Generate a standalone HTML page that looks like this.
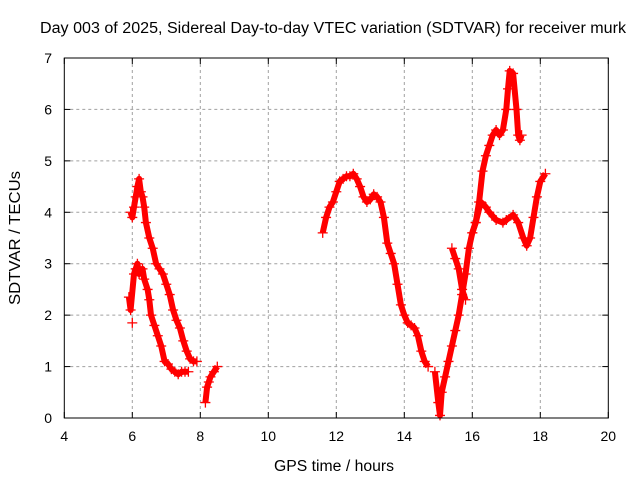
<!DOCTYPE html>
<html><head><meta charset="utf-8"><style>
body{margin:0;background:#fff}
svg{font-family:"Liberation Sans",sans-serif}
</style></head><body>
<svg id="chart" width="640" height="480">
<text x="333" y="33" font-size="15.5" text-anchor="middle" textLength="586" lengthAdjust="spacingAndGlyphs">Day 003 of 2025, Sidereal Day-to-day VTEC variation (SDTVAR) for receiver murk</text>
<text x="334" y="471" font-size="15.5" text-anchor="middle" textLength="120" lengthAdjust="spacingAndGlyphs">GPS time / hours</text>
<text x="20" y="238" font-size="15.5" text-anchor="middle" textLength="134" lengthAdjust="spacingAndGlyphs" transform="rotate(-90 20 238)">SDTVAR / TECUs</text>
<g id="grid"></g><g id="ticks"></g><g id="marks"></g>
<rect x="64.3" y="58" width="544" height="360" fill="none" stroke="#000" stroke-width="1"/>
</svg>
<script>
const xTicks=[4,6,8,10,12,14,16,18,20];
const yTicks=[0,1,2,3,4,5,6,7];
const segA=[[5.95,4.0],[6.0,3.9],[6.05,4.1],[6.1,4.3],[6.15,4.5],[6.2,4.65],[6.25,4.4],[6.3,4.3],[6.35,4.1],[6.4,3.8],[6.5,3.5],[6.6,3.3],[6.7,3.0],[6.8,2.9],[6.9,2.8],[7.0,2.6],[7.1,2.4],[7.2,2.1],[7.3,1.9],[7.4,1.75],[7.5,1.5],[7.6,1.3],[7.7,1.15],[7.8,1.1],[7.9,1.1]];
const segB=[[5.9,2.35],[5.95,2.1],[6.05,2.8],[6.1,2.9],[6.15,3.0],[6.2,2.8],[6.3,2.9],[6.35,2.7],[6.45,2.5],[6.5,2.3],[6.55,2.0],[6.65,1.8],[6.75,1.6],[6.85,1.4],[6.95,1.1],[7.05,1.05],[7.15,0.95],[7.25,0.9],[7.35,0.85],[7.45,0.9],[7.55,0.9],[7.65,0.9]];
const segB0=[[6.0,1.85]];
const segC=[[8.15,0.3],[8.2,0.6],[8.25,0.7],[8.3,0.8],[8.4,0.9],[8.5,1.0]];
const segD=[[11.6,3.6],[11.7,3.9],[11.8,4.1],[11.9,4.2],[12.0,4.4],[12.1,4.6],[12.2,4.65],[12.3,4.7],[12.4,4.7],[12.5,4.75],[12.6,4.65],[12.7,4.5],[12.8,4.3],[12.9,4.2],[13.0,4.25],[13.1,4.35],[13.2,4.3],[13.3,4.2],[13.4,3.9],[13.5,3.4],[13.6,3.2],[13.7,3.0],[13.8,2.6],[13.9,2.2],[14.0,2.0],[14.1,1.85],[14.2,1.8],[14.3,1.75],[14.4,1.6],[14.5,1.3],[14.6,1.1],[14.7,1.0]];
const segE=[[14.9,0.9],[15.0,0.3],[15.05,0.05],[15.1,0.5],[15.2,0.8],[15.3,1.1],[15.4,1.4],[15.5,1.7],[15.6,2.0],[15.7,2.4],[15.8,2.8],[15.9,3.3],[16.0,3.6],[16.1,3.8],[16.2,4.2],[16.3,4.8],[16.4,5.1],[16.5,5.3],[16.6,5.5],[16.7,5.6],[16.8,5.5],[16.9,5.6],[17.0,6.0],[17.05,6.4],[17.1,6.75],[17.2,6.7],[17.3,6.0],[17.35,5.5],[17.4,5.4],[17.45,5.5]];
const segF=[[15.4,3.3],[15.5,3.1],[15.6,2.9],[15.7,2.5],[15.8,2.3]];
const segG=[[16.0,3.6],[16.1,3.8],[16.25,4.2],[16.4,4.1],[16.5,4.0],[16.7,3.85],[16.9,3.8],[17.0,3.85],[17.2,3.95],[17.35,3.8],[17.5,3.5],[17.6,3.35],[17.7,3.5],[17.8,3.9],[17.9,4.3],[18.0,4.6],[18.15,4.75]];
const segments=[segA,segB,segB0,segC,segD,segE,segF,segG];
const X=v=>64.3+(v-4)*34, Y=v=>418-v*360/7;
const NS="http://www.w3.org/2000/svg";
function mk(t,a,p){const e=document.createElementNS(NS,t);for(const k in a)e.setAttribute(k,a[k]);p.appendChild(e);return e;}
const grid=document.getElementById('grid'),ticks=document.getElementById('ticks'),marks=document.getElementById('marks');
xTicks.forEach(v=>{
 if(v>4&&v<20){const g=mk('line',{x1:X(v),x2:X(v),y1:58,y2:418,stroke:'#a0a0a0','stroke-dasharray':'3,3'},grid);
 
 }
 mk('line',{x1:X(v),x2:X(v),y1:418,y2:412,stroke:'#000'},ticks);
 mk('line',{x1:X(v),x2:X(v),y1:58,y2:64,stroke:'#000'},ticks);
 const t=mk('text',{x:X(v),y:441,'font-size':14,'text-anchor':'middle'},ticks);t.textContent=v;
 
 
});
yTicks.forEach(v=>{
 if(v>0&&v<7){const g=mk('line',{x1:64.3,x2:608.3,y1:Y(v),y2:Y(v),stroke:'#a0a0a0','stroke-dasharray':'3,3'},grid);
 
 }
 mk('line',{x1:64.3,x2:70.3,y1:Y(v),y2:Y(v),stroke:'#000'},ticks);
 mk('line',{x1:602.3,x2:608.3,y1:Y(v),y2:Y(v),stroke:'#000'},ticks);
 const t=mk('text',{x:52,y:Y(v)+5,'font-size':14,'text-anchor':'end'},ticks);t.textContent=v;
 
 
});
segments.forEach(seg=>{
 if(seg.length>1){const pl=mk('polyline',{points:seg.map(p=>X(p[0])+','+Y(p[1])).join(' '),fill:'none',stroke:'#f00','stroke-width':6,'stroke-linejoin':'round'},marks);
 
 }
 seg.forEach(p=>{const x=X(p[0]),y=Y(p[1]);
  const c=mk('path',{d:`M${x-5},${y}h10M${x},${y-5}v10`,stroke:'#f00','stroke-width':1.3},marks);
  
  });
});
</script>
</body></html>
